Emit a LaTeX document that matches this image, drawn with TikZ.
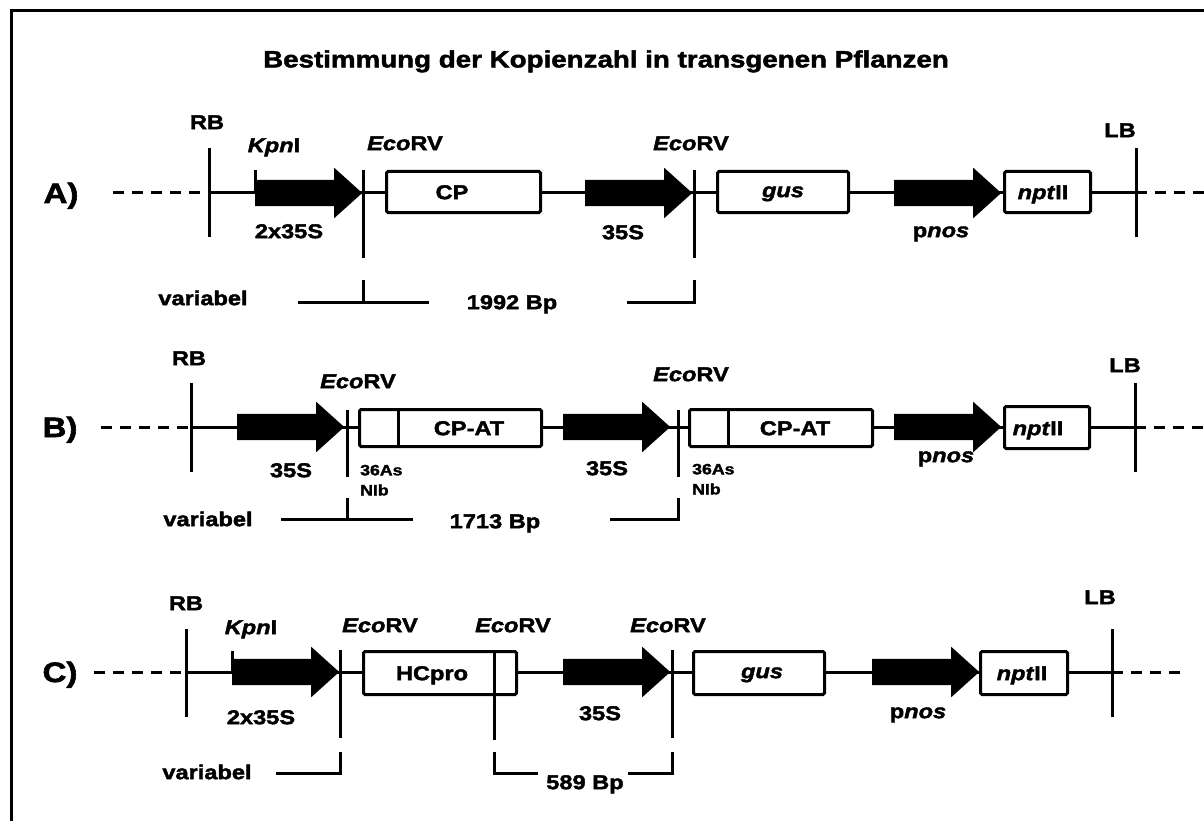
\documentclass[tikz,border=0pt]{standalone}
\usepackage{fontspec}
\usetikzlibrary{shapes.arrows}
\newfontfamily\labfont{Liberation Sans}[FakeStretch=1.18,
        BoldFeatures={FakeBold=2}, BoldItalicFeatures={FakeBold=2}]

\begin{document}
\begin{tikzpicture}[x=1pt,y=-1pt,
        lab/.style={font=\labfont\bfseries\fontsize{20}{22}\selectfont, inner sep=0pt, text height=14.3pt, text depth=0pt},
        titlelab/.style={font=\labfont\bfseries\fontsize{23.5}{26}\selectfont, inner sep=0pt, text height=16.8pt, text depth=0pt},
        rowlab/.style={font=\labfont\bfseries\fontsize{28}{30}\selectfont, inner sep=0pt, text height=20pt, text depth=0pt},
        smalllab/.style={font=\labfont\bfseries\fontsize{15}{17}\selectfont, inner sep=0pt, text height=10.7pt, text depth=0pt, anchor=west},
        gene/.style={draw, line width=3pt, rounded corners=1.5pt, fill=white, inner sep=0pt, outer sep=0pt},
        prom/.style={single arrow, fill=black, inner sep=0pt, text height=13pt, text depth=13pt, minimum height=107pt,
                single arrow head extend=12pt, single arrow tip angle=84, anchor=tail},
        bb/.style={line width=3pt},
        flank/.style={line width=3pt, dash pattern=on 11pt off 8pt}]
        \useasboundingbox (0,0) rectangle (1204,821);
        \draw [line width=3pt] (11,900) |- (1300,11);
        \node [titlelab] (title) at (606,59) {Bestimmung der Kopienzahl in transgenen Pflanzen};
        % A)
        \node [rowlab] (aName) at (61,193) {A)};
        \coordinate (aL) at (113,193);
        \coordinate (aRB) at (209,193);
        \coordinate (aE1) at (363,193);
        \coordinate (aE2) at (694,193);
        \coordinate (aLB) at (1136,193);
        \coordinate (aR) at (1215,193);
        \draw [flank] (aL) -- (aRB);
        \draw [bb] (aRB) -- (aLB);
        \draw [flank] (aLB) -- (aR);
        \draw [bb] (aRB) ++(0,-45) -- ++(0,89);
        \draw [bb] (aLB) ++(0,-45) -- ++(0,89);
        \draw [bb] (aE1) ++(0,-23) -- ++(0,88);
        \draw [bb] (aE2) ++(0,-23) -- ++(0,88);
        \node [prom] (aP1) at (255,193) {};
        \draw [bb] (aP1.tail) -- ++(0,-23);
        \node [gene, minimum width=154pt, minimum height=41pt] (aCP) at (463.5,192) {};
        \node [prom] (aP2) at (585,193) {};
        \node [gene, minimum width=131pt, minimum height=41pt] (aGus) at (783,192) {};
        \node [prom] (aP3) at (894,193) {};
        \node [gene, minimum width=86pt, minimum height=41pt] (aNpt) at (1047.5,192) {};
        \node [lab] at (207,122) {RB};
        \node [lab] at (274,145) {\textit{Kpn}I};
        \node [lab] at (289,231) {2x35S};
        \node [lab] at (405,143) {\textit{Eco}RV};
        \node [lab] at (452,192) {CP};
        \node [lab] at (623,232) {35S};
        \node [lab] at (691,143) {\textit{Eco}RV};
        \node [lab] at (783,190) {\textit{gus}};
        \node [lab] at (941,230) {p\textit{nos}};
        \node [lab] at (1043,192) {\textit{npt}II};
        \node [lab] at (1120,130) {LB};
        \node [lab] at (203,298) {variabel};
        \node [lab] at (512,302) {1992 Bp};
        \draw [bb] (298,302) -- (429,302);
        \draw [bb] (363,280) -- (363,302);
        \draw [bb] (627,302) -- (694,302) -- (694,280);
        % B)
        \node [rowlab] (bName) at (60,427) {B)};
        \coordinate (bL) at (101,427);
        \coordinate (bRB) at (191,427);
        \coordinate (bE1) at (347,427);
        \coordinate (bE2) at (678,427);
        \coordinate (bLB) at (1135,427);
        \coordinate (bR) at (1215,427);
        \draw [flank] (bL) -- (bRB);
        \draw [bb] (bRB) -- (bLB);
        \draw [flank] (bLB) -- (bR);
        \draw [bb] (bRB) ++(0,-44) -- ++(0,89);
        \draw [bb] (bLB) ++(0,-44) -- ++(0,89);
        \draw [bb] (bE1) ++(0,-17) -- ++(0,67);
        \draw [bb] (bE2) ++(0,-17) -- ++(0,67);
        \node [prom] (bP1) at (237,427) {};
        \node [gene, minimum width=182pt, minimum height=37pt] (bCP1) at (450.5,428) {};
        \draw [bb] ([xshift=38.5pt]bCP1.north west) -- ([xshift=38.5pt]bCP1.south west);
        \node [prom] (bP2) at (563,427) {};
        \node [gene, minimum width=183pt, minimum height=37pt] (bCP2) at (781,428) {};
        \draw [bb] ([xshift=38.5pt]bCP2.north west) -- ([xshift=38.5pt]bCP2.south west);
        \node [prom] (bP3) at (894,427) {};
        \node [gene, minimum width=85pt, minimum height=42pt] (bNpt) at (1047,427.5) {};
        \node [lab] at (189,358) {RB};
        \node [lab] at (291,470) {35S};
        \node [lab] at (358,381) {\textit{Eco}RV};
        \node [lab] at (469,428) {CP-AT};
        \node [smalllab] at (360,470) {36As};
        \node [smalllab] at (360,490) {NIb};
        \node [lab] at (607,468) {35S};
        \node [lab] at (691,374) {\textit{Eco}RV};
        \node [lab] at (795,428) {CP-AT};
        \node [smalllab] at (692,469) {36As};
        \node [smalllab] at (692,489) {NIb};
        \node [lab] at (946,455) {p\textit{nos}};
        \node [lab] at (1038,428) {\textit{npt}II};
        \node [lab] at (1125,365) {LB};
        \node [lab] at (208,519) {variabel};
        \node [lab] at (495,521) {1713 Bp};
        \draw [bb] (281,519) -- (413,519);
        \draw [bb] (347,498) -- (347,519);
        \draw [bb] (610,519) -- (678,519) -- (678,498);
        % C)
        \node [rowlab] (cName) at (60,672) {C)};
        \coordinate (cL) at (94,672);
        \coordinate (cRB) at (186,672);
        \coordinate (cE1) at (340,672);
        \coordinate (cE3) at (672,672);
        \coordinate (cLB) at (1112,672);
        \coordinate (cR) at (1185,672);
        \draw [flank] (cL) -- (cRB);
        \draw [bb] (cRB) -- (cLB);
        \draw [flank] (cLB) -- (cR);
        \draw [bb] (cRB) ++(0,-43) -- ++(0,88);
        \draw [bb] (cLB) ++(0,-43) -- ++(0,88);
        \draw [bb] (cE1) ++(0,-22) -- ++(0,88);
        \draw [bb] (cE3) ++(0,-22) -- ++(0,88);
        \node [prom] (cP1) at (232,672) {};
        \draw [bb] (cP1.tail) -- ++(0,-21);
        \node [gene, minimum width=153pt, minimum height=43pt] (cHC) at (440,673) {};
        \draw [bb] ([xshift=130.5pt]cHC.north west) -- ++(0,88.5);
        \node [prom] (cP2) at (563,672) {};
        \node [gene, minimum width=131pt, minimum height=43pt] (cGus) at (759,673) {};
        \node [prom] (cP3) at (872,672) {};
        \node [gene, minimum width=87pt, minimum height=43pt] (cNpt) at (1024,673) {};
        \node [lab] at (186,603) {RB};
        \node [lab] at (251,627) {\textit{Kpn}I};
        \node [lab] at (261,717) {2x35S};
        \node [lab] at (380,625) {\textit{Eco}RV};
        \node [lab] at (432,673) {HCpro};
        \node [lab] at (513,625) {\textit{Eco}RV};
        \node [lab] at (600,713) {35S};
        \node [lab] at (668,625) {\textit{Eco}RV};
        \node [lab] at (762,671) {\textit{gus}};
        \node [lab] at (918,711) {p\textit{nos}};
        \node [lab] at (1022,673) {\textit{npt}II};
        \node [lab] at (1100,597) {LB};
        \node [lab] at (207,772) {variabel};
        \node [lab] at (585,782) {589 Bp};
        \draw [bb] (276,773) -- (340,773) -- (340,752);
        \draw [bb] (494,752) -- (494,773) -- (538,773);
        \draw [bb] (628,773) -- (672,773) -- (672,752);
\end{tikzpicture}
\end{document}
